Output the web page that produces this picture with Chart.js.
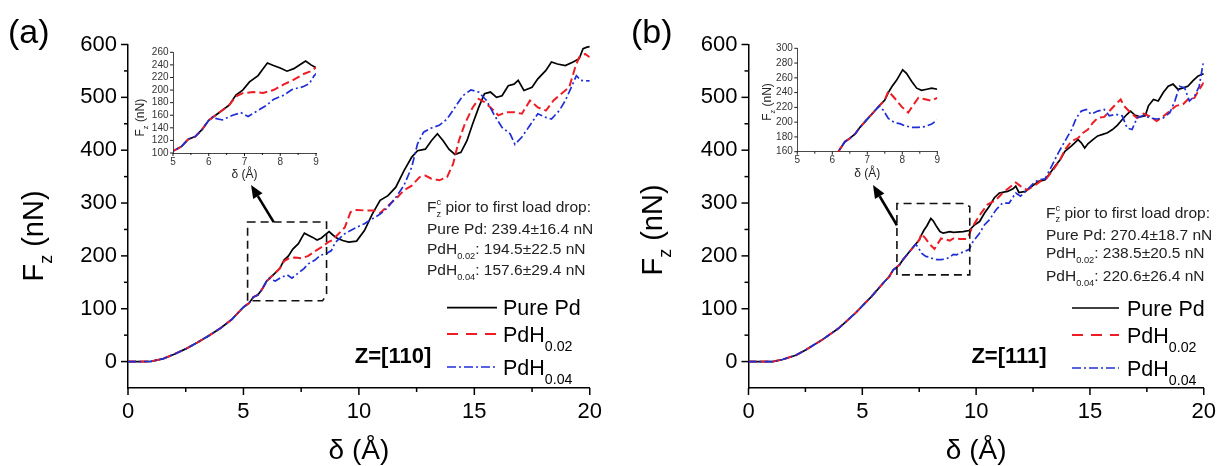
<!DOCTYPE html>
<html><head><meta charset="utf-8">
<script src="https://cdn.jsdelivr.net/npm/chart.js@4.4.1/dist/chart.umd.min.js"></script>
<style>
html,body{margin:0;padding:0;background:#fff;}
#wrap{position:relative;width:1227px;height:466px;overflow:hidden;background:#fff;}
canvas{position:absolute;display:block;}
</style></head><body>
<div id="wrap">
<canvas id="mA" width="613" height="466" style="left:0;top:0;width:613px;height:466px"></canvas>
<canvas id="mB" width="614" height="466" style="left:613px;top:0;width:614px;height:466px"></canvas>
<canvas id="iA" width="210" height="150" style="left:120px;top:35px;width:210px;height:150px"></canvas>
<canvas id="iB" width="210" height="150" style="left:745px;top:30px;width:210px;height:150px"></canvas>
</div>
<script>
// ---------- tick labels ----------
const xTicksMain = [0, 5, 10, 15, 20];
const xMinorMain = [2.5, 7.5, 12.5, 17.5];
const yTicksMain = [0, 100, 200, 300, 400, 500, 600];
const yMinorMain = [50, 150, 250, 350, 450, 550];
const xTicksInset = [5, 6, 7, 8, 9];
const xMinorInset = [5.5, 6.5, 7.5, 8.5];
const yTicksInsetA = [100, 120, 140, 160, 180, 200, 220, 240, 260];
const yTicksInsetB = [160, 180, 200, 220, 240, 260, 280, 300];

// ---------- series names ----------
const seriesNames = ['Pure Pd', 'PdH', 'PdH'];
const seriesSubs = ['', '0.02', '0.04'];

// ---------- panel (a) Z=[110] : [delta (Å), Fz (nN)] ----------
const commonA = [[0,0],[0.5,0],[1,0.5],[1.5,5],[2,14],[2.5,24],[3,36],[3.5,49],[4,63],[4.5,80],[5,103],[5.24,110.5],[5.43,122],[5.62,126],[5.81,137],[6.0,152]];
const pureA = [[6.19,160],[6.38,168],[6.57,176],[6.76,192],[6.95,200],[7.14,213],[7.38,223],[7.52,234],[7.64,243],[7.81,239],[8.0,235],[8.19,230],[8.38,234],[8.57,241],[8.71,246],[8.86,240],[9.04,234],[9.3,229],[9.56,226],[9.9,228],[10.24,248],[10.58,279],[10.92,305],[11.26,314],[11.6,330],[11.95,361],[12.29,387],[12.54,399],[12.88,402],[13.14,418],[13.4,431],[13.65,418],[13.9,402],[14.16,392],[14.42,396],[14.68,418],[14.93,450],[15.19,481],[15.44,507],[15.7,510],[15.96,500],[16.2,503],[16.47,522],[16.72,525],[16.9,532],[17.15,513],[17.5,519],[17.75,535],[18.1,551],[18.34,567],[18.6,563],[18.94,560],[19.28,567],[19.54,573],[19.71,592],[19.88,595],[20,596]];
const pdh02A = [[6.19,160],[6.38,168],[6.57,176],[6.76,190],[6.95,195],[7.24,197],[7.52,195.5],[7.81,200],[8.1,209],[8.38,216.5],[8.67,226],[8.86,230],[9.04,238],[9.39,254],[9.64,283],[9.9,287],[10.24,286],[10.67,286],[10.92,281],[11.26,295],[11.6,308],[11.95,324],[12.29,333],[12.63,349],[12.88,352],[13.14,346],[13.48,343],[13.82,349],[14.08,374],[14.33,418],[14.59,450],[14.93,481],[15.19,497],[15.44,491],[15.7,481],[16.04,466],[16.38,472],[16.72,472],[17.06,469],[17.41,494],[17.75,481],[18.1,475],[18.43,494],[18.77,507],[19.11,519],[19.37,557],[19.54,576],[19.8,582],[20,576]];
const pdh04A = [[6.12,158],[6.19,155],[6.38,152.5],[6.67,160],[6.9,164],[7.1,158],[7.33,166],[7.62,176],[7.81,185],[8.1,192],[8.33,201],[8.62,205],[8.81,210],[8.95,223],[9.04,228],[9.39,242],[9.9,254],[10.24,261],[10.58,270],[10.92,279],[11.26,292],[11.6,311],[11.95,333],[12.29,368],[12.54,412],[12.8,434],[13.14,442],[13.48,447],[13.82,459],[14.16,481],[14.5,503],[14.85,514],[15.19,510],[15.53,494],[15.87,466],[16.2,443],[16.55,431],[16.76,411],[17.06,425],[17.41,447],[17.75,469],[18.1,462],[18.34,459],[18.68,475],[18.94,494],[19.2,519],[19.42,541],[19.62,532],[20,531]];

// ---------- panel (b) Z=[111] ----------
const commonB = [[0,0],[0.5,0],[1.07,0],[1.5,4],[2.08,12],[2.51,22],[3.23,41],[3.96,63],[4.68,91],[5.4,123],[5.97,151],[6.17,160],[6.36,173.5],[6.5,178],[6.65,184],[6.79,193],[6.98,203],[7.17,213],[7.34,222]];
const pureB = [[7.5,230],[7.6,240],[7.7,248],[7.84,257],[8.01,270.7],[8.12,266],[8.27,255],[8.41,246],[8.55,243],[8.7,244.5],[8.84,246],[9.0,244.5],[9.43,246],[9.69,248],[9.94,259],[10.15,265],[10.37,281],[10.58,294],[10.8,310],[11.02,319],[11.38,322],[11.62,327],[11.74,332],[11.88,320],[12.17,322],[12.46,332],[12.75,341],[13.03,344],[13.25,357],[13.47,370],[13.69,382],[13.9,398],[14.19,408],[14.48,420],[14.62,414],[14.77,404],[14.91,412],[15.13,420],[15.34,427],[15.56,430],[15.77,433],[15.99,439],[16.2,447],[16.42,458],[16.63,468],[16.78,474],[16.99,466],[17.21,463],[17.43,465],[17.57,484],[17.79,496],[18.0,493],[18.22,509],[18.44,521],[18.65,525],[18.87,515],[19.09,518],[19.3,521],[19.52,531],[19.74,540],[19.95,544],[20,544]];
const pdh02B = [[7.5,230],[7.6,242],[7.79,232],[7.98,221],[8.17,213],[8.31,223],[8.46,233],[8.65,231],[8.84,229],[9.0,233],[9.3,232],[9.57,232],[9.69,240],[9.8,252],[9.94,262],[10.22,281],[10.5,297],[10.87,306],[11.16,319],[11.45,329],[11.74,339],[11.95,332],[12.24,325],[12.53,332],[12.82,341],[13.1,347],[13.39,363],[13.69,382],[13.9,401],[14.19,417],[14.48,423],[14.7,433],[14.91,439],[15.13,452],[15.34,461],[15.63,463],[15.92,477],[16.13,487],[16.35,496],[16.49,484],[16.78,471],[17.07,461],[17.36,469],[17.64,464],[17.93,455],[18.22,464],[18.51,474],[18.79,484],[19.09,487],[19.3,496],[19.59,499],[19.8,515],[20,528]];
const pdh04B = [[7.46,216],[7.6,205],[7.79,199],[7.93,198],[8.08,195],[8.27,193],[8.46,193],[8.65,194],[8.84,197.5],[9.0,203],[9.14,202],[9.57,210],[9.69,212],[9.86,227],[10.15,243],[10.37,259],[10.58,268],[10.87,287],[11.16,300],[11.45,300],[11.74,319],[11.95,313],[12.24,325],[12.53,338],[12.75,344],[13.03,346],[13.32,370],[13.61,395],[13.9,417],[14.19,439],[14.4,461],[14.62,474],[14.84,477],[15.05,468],[15.34,474],[15.63,477],[15.85,465],[16.13,468],[16.42,465],[16.63,442],[16.85,439],[17.07,461],[17.36,466],[17.64,461],[17.93,459],[18.22,461],[18.51,471],[18.73,493],[18.94,521],[19.16,518],[19.37,493],[19.59,502],[19.8,521],[19.95,559],[20,566]];

// ---------- annotation values ----------
const fcA = ['239.4', '16.4', '194.5', '22.5', '157.6', '29.4'];
const fcB = ['270.4', '18.7', '238.5', '20.5', '220.6', '26.4'];
// zoom box [xmin, xmax, ymin, ymax] and arrow [[x tail, y tail],[x head, y head]] in data units
const boxA = [5.18, 8.6, 115, 264];
const boxB = [6.52, 9.72, 164, 299];
const arrowA = [[6.31, 264], [5.33, 334]];
const arrowB = [[6.52, 258], [5.47, 334]];

const FONT = "'Liberation Sans', Arial, Helvetica, sans-serif";
const COLORS = ['#000000', '#ee1c25', '#1f2fd6'];
const DASHES = [[], [8, 4], [8, 3, 2, 3]];
const WIDTHS = [1.7, 2.0, 1.7];

Chart.defaults.font.family = FONT;
Chart.defaults.animation = false;

function pts(arr) { return arr.map(p => ({x: p[0], y: p[1]})); }

// rich text: segs = [[text, mode]] mode 0 normal, 1 sub, 2 sup, 3 stacked [sup, sub]
function rich(ctx, x, y, segs, size, color, align, subK, subDy) {
  subK = subK || 0.62; subDy = subDy || 0.3;
  ctx.save(); ctx.fillStyle = color; ctx.textBaseline = 'alphabetic'; ctx.textAlign = 'left';
  let w = 0;
  const parts = segs.map(s => {
    const m = s[1] || 0;
    const fs = m ? size * subK : size;
    ctx.font = fs + 'px ' + FONT;
    let tw;
    if (m === 3) tw = Math.max(ctx.measureText(s[0]).width, ctx.measureText(s[2]).width);
    else tw = ctx.measureText(s[0]).width;
    w += tw;
    return {s, m, fs, tw};
  });
  let cx = align === 'center' ? x - w / 2 : align === 'right' ? x - w : x;
  parts.forEach(p => {
    ctx.font = p.fs + 'px ' + FONT;
    if (p.m === 3) {
      ctx.fillText(p.s[0], cx, y - size * 0.42);
      ctx.fillText(p.s[2], cx, y + size * subDy);
    } else {
      const dy = p.m === 1 ? size * subDy : p.m === 2 ? -size * 0.42 : 0;
      ctx.fillText(p.s[0], cx, y + dy);
    }
    cx += p.tw;
  });
  ctx.restore();
  return w;
}

// ticks drawn outward through the scales
const tickPlugin = {
  id: 'ticks2',
  afterDraw(chart, args, o) {
    const ctx = chart.ctx, xs = chart.scales.x, ys = chart.scales.y, a = chart.chartArea;
    ctx.save(); ctx.strokeStyle = '#000'; ctx.lineWidth = o.lw;
    const L = (x1, y1, x2, y2) => { ctx.beginPath(); ctx.moveTo(x1, y1); ctx.lineTo(x2, y2); ctx.stroke(); };
    o.xMajor.forEach(v => { const p = xs.getPixelForValue(v); L(p, a.bottom, p, a.bottom + o.major); });
    o.xMinor.forEach(v => { const p = xs.getPixelForValue(v); L(p, a.bottom, p, a.bottom + o.minor); });
    o.yMajor.forEach(v => { const p = ys.getPixelForValue(v); L(a.left, p, a.left - o.major, p); });
    o.yMinor.forEach(v => { const p = ys.getPixelForValue(v); L(a.left, p, a.left - o.minor, p); });
    ctx.restore();
  }
};

// decorations of the main panels
const decorPlugin = {
  id: 'decor',
  afterDraw(chart, args, o) {
    const ctx = chart.ctx, xs = chart.scales.x, ys = chart.scales.y, a = chart.chartArea;
    const X = v => xs.getPixelForValue(v), Y = v => ys.getPixelForValue(v);
    const ox = o.ox;
    // panel label
    ctx.save(); ctx.fillStyle = '#000'; ctx.font = '34px ' + FONT; ctx.textBaseline = 'middle'; ctx.textAlign = 'left';
    ctx.fillText(o.label, o.labelX, 34); ctx.restore();
    // axis titles
    rich(ctx, (a.left + a.right) / 2, 459, [['δ (Å)', 0]], 28, '#000', 'center');
    ctx.save(); ctx.translate(o.yTitleX, o.yTitleY); ctx.rotate(-Math.PI / 2);
    rich(ctx, 0, 10, [['F', 0], ['z', 1], [' (nN)', 0]], 29, '#000', 'center', 0.62, 0.32);
    ctx.restore();
    // zoom box
    const b = o.box;
    ctx.save(); ctx.strokeStyle = '#111'; ctx.lineWidth = 1.6; ctx.setLineDash([8, 5]);
    ctx.beginPath();
    if (o.cut === 'br') {
      ctx.moveTo(X(b[0]), Y(b[3])); ctx.lineTo(X(b[1]), Y(b[3])); ctx.lineTo(X(b[1]), Y(b[2]) - 6);
      ctx.lineTo(X(b[1]) - 4, Y(b[2])); ctx.lineTo(X(b[0]), Y(b[2])); ctx.closePath();
    } else {
      ctx.moveTo(X(b[0]), Y(b[2])); ctx.lineTo(X(b[0]), Y(b[3])); ctx.lineTo(X(b[1]) - 7, Y(b[3]));
      ctx.lineTo(X(b[1]), Y(b[3]) + 3); ctx.lineTo(X(b[1]), Y(b[2])); ctx.closePath();
    }
    ctx.stroke(); ctx.restore();
    // arrow
    const t = o.arrow[0], h = o.arrow[1];
    const x1 = X(t[0]), y1 = Y(t[1]), x2 = X(h[0]), y2 = Y(h[1]);
    const ang = Math.atan2(y2 - y1, x2 - x1), hl = 13, hw = 5.5;
    const bx = x2 - hl * Math.cos(ang), by = y2 - hl * Math.sin(ang);
    ctx.save(); ctx.strokeStyle = '#000'; ctx.fillStyle = '#000'; ctx.lineWidth = 2.6;
    ctx.beginPath(); ctx.moveTo(x1, y1); ctx.lineTo(bx, by); ctx.stroke();
    ctx.beginPath(); ctx.moveTo(x2, y2);
    ctx.lineTo(bx + hw * Math.sin(ang), by - hw * Math.cos(ang));
    ctx.lineTo(bx - hw * Math.sin(ang), by + hw * Math.cos(ang)); ctx.closePath(); ctx.fill();
    ctx.restore();
    // annotation
    const v = o.vals, tx = o.textX - ox, ty = o.textY, col = '#222', fs = 15.5;
    rich(ctx, tx, ty[0] + 5, [['F', 0], ['c', 3, 'z'], [' pior to first load drop:', 0]], fs, col, 'left', 0.6, 0.3);
    rich(ctx, tx, ty[1] + 5, [['Pure Pd: ' + v[0] + '±' + v[1] + ' nN', 0]], fs, col, 'left');
    rich(ctx, tx, ty[2] + 5, [['PdH', 0], ['0.02', 1], [': ' + v[2] + '±' + v[3] + ' nN', 0]], fs, col, 'left', 0.6, 0.3);
    rich(ctx, tx, ty[3] + 5, [['PdH', 0], ['0.04', 1], [': ' + v[4] + '±' + v[5] + ' nN', 0]], fs, col, 'left', 0.6, 0.3);
    // legend
    const lx1 = o.legX1 - ox, lx2 = o.legX2 - ox, ltx = o.legTX - ox;
    for (let i = 0; i < 3; i++) {
      const yy = o.legY[i];
      ctx.save(); ctx.strokeStyle = COLORS[i]; ctx.lineWidth = WIDTHS[i];
      ctx.setLineDash(i === 0 ? [] : i === 1 ? [11, 8] : [9, 3, 2, 3]);
      ctx.beginPath(); ctx.moveTo(lx1, yy); ctx.lineTo(lx2, yy); ctx.stroke(); ctx.restore();
      const segs = [[seriesNames[i], 0]];
      if (seriesSubs[i]) segs.push([seriesSubs[i], 1]);
      rich(ctx, ltx, yy + 7.5, segs, 21.5, '#000', 'left', 0.66, 0.42);
    }
    // Z label
    ctx.save(); ctx.fillStyle = '#000'; ctx.font = 'bold 22px ' + FONT; ctx.textAlign = 'center'; ctx.textBaseline = 'middle';
    ctx.fillText(o.zlabel, o.zX - ox, 357); ctx.restore();
  }
};

const insetPlugin = {
  id: 'insetTitles',
  afterDraw(chart, args, o) {
    const ctx = chart.ctx, a = chart.chartArea;
    rich(ctx, (a.left + a.right) / 2, a.bottom + 25, [['δ (Å)', 0]], 12, '#222', 'center');
    ctx.save(); ctx.translate(o.yTitleX, (a.top + a.bottom) / 2 + o.yTitleDy); ctx.rotate(-Math.PI / 2);
    rich(ctx, 0, 4, [['F', 0], ['z', 1], [' (nN)', 0]], 12, '#222', 'center', 0.62, 0.32);
    ctx.restore();
  }
};

function datasets(common, s0, s1, s2, dash) {
  return [s0, s1, s2].map((s, i) => ({
    label: seriesNames[i] + seriesSubs[i],
    data: pts(common.concat(s)),
    borderColor: COLORS[i], borderWidth: WIDTHS[i], borderDash: DASHES[i],
    pointRadius: 0, showLine: true, tension: 0, fill: false
  })).reverse();
}

function mainChart(id, common, s, opts) {
  return new Chart(document.getElementById(id), {
    type: 'scatter',
    data: {datasets: datasets(common, s[0], s[1], s[2])},
    options: {
      responsive: false, animation: false, events: [],
      layout: {padding: {left: 0, right: opts.padR, top: 44.5, bottom: 0}},
      plugins: {legend: {display: false}, tooltip: {enabled: false},
        ticks2: {xMajor: xTicksMain, xMinor: xMinorMain, yMajor: yTicksMain, yMinor: yMinorMain, major: 7, minor: 4, lw: 1.5},
        decor: opts.decor},
      scales: {
        x: {type: 'linear', min: 0, max: 20,
          afterBuildTicks: sc => { sc.ticks = xTicksMain.map(v => ({value: v})); },
          afterFit: sc => { sc.height = 466 - 388; },
          grid: {display: true, drawOnChartArea: false, drawTicks: false},
          border: {display: true, color: '#000', width: 1.5},
          ticks: {color: '#000', font: {size: 22, family: FONT}, padding: 11, maxRotation: 0, autoSkip: false}},
        y: {type: 'linear', min: -50, max: 600,
          afterBuildTicks: sc => { sc.ticks = yTicksMain.map(v => ({value: v})); },
          afterFit: sc => { sc.width = opts.yW; },
          grid: {display: true, drawOnChartArea: false, drawTicks: false},
          border: {display: true, color: '#000', width: 1.5},
          ticks: {color: '#000', font: {size: 22, family: FONT}, padding: 11, autoSkip: false}}
      }
    },
    plugins: [tickPlugin, decorPlugin]
  });
}

function insetChart(id, common, s, yMin, yMax, yTicks, opts) {
  return new Chart(document.getElementById(id), {
    type: 'scatter',
    data: {datasets: datasets(common, s[0], s[1], s[2])},
    options: {
      responsive: false, animation: false, events: [],
      layout: {padding: {left: 0, right: opts.padR, top: opts.padT, bottom: 0}},
      plugins: {legend: {display: false}, tooltip: {enabled: false},
        ticks2: {xMajor: xTicksInset, xMinor: xMinorInset, yMajor: yTicks, yMinor: [], major: 3, minor: 2, lw: 0.9},
        insetTitles: opts.titles},
      scales: {
        x: {type: 'linear', min: 5, max: 9,
          afterBuildTicks: sc => { sc.ticks = xTicksInset.map(v => ({value: v})); },
          afterFit: sc => { sc.height = opts.xH; },
          grid: {display: true, drawOnChartArea: false, drawTicks: false},
          border: {display: true, color: '#333', width: 0.9},
          ticks: {color: '#333', font: {size: 10, family: FONT}, padding: 3, maxRotation: 0, autoSkip: false}},
        y: {type: 'linear', min: yMin, max: yMax,
          afterBuildTicks: sc => { sc.ticks = yTicks.map(v => ({value: v})); },
          afterFit: sc => { sc.width = opts.yW; },
          grid: {display: true, drawOnChartArea: false, drawTicks: false},
          border: {display: true, color: '#333', width: 0.9},
          ticks: {color: '#333', font: {size: 10, family: FONT}, padding: 4.5, autoSkip: false}}
      }
    },
    plugins: [tickPlugin, insetPlugin]
  });
}

mainChart('mA', commonA, [pureA, pdh02A, pdh04A], {
  padR: 16, yW: 128,
  decor: {ox: 0, label: '(a)', labelX: 8, yTitleX: 33, yTitleY: 236, box: boxA, cut: 'br', arrow: arrowA,
    vals: fcA, textX: 427, textY: [207, 229, 249, 270],
    legX1: 447, legX2: 497, legTX: 503, legY: [307.7, 334, 367], zlabel: 'Z=[110]', zX: 393}
});
mainChart('mB', commonB, [pureB, pdh02B, pdh04B], {
  padR: 16, yW: 135.5,
  decor: {ox: 613, label: '(b)', labelX: 18, yTitleX: 39, yTitleY: 230, box: boxB, cut: 'tr', arrow: arrowB,
    vals: fcB, textX: 1046, textY: [212.5, 234.5, 253, 276],
    legX1: 1072, legX2: 1119, legTX: 1127, legY: [308, 335, 368], zlabel: 'Z=[111]', zX: 1009}
});
insetChart('iA', commonA, [pureA, pdh02A, pdh04A], 100, 260, yTicksInsetA, {
  padR: 14, padT: 17.3, xH: 32, yW: 53, titles: {yTitleX: 20, yTitleDy: 15}
});
insetChart('iB', commonB, [pureB, pdh02B, pdh04B], 160, 300, yTicksInsetB, {
  padR: 17.7, padT: 18.3, xH: 28.3, yW: 52.3, titles: {yTitleX: 22, yTitleDy: 2}
});
</script>
</body></html>
